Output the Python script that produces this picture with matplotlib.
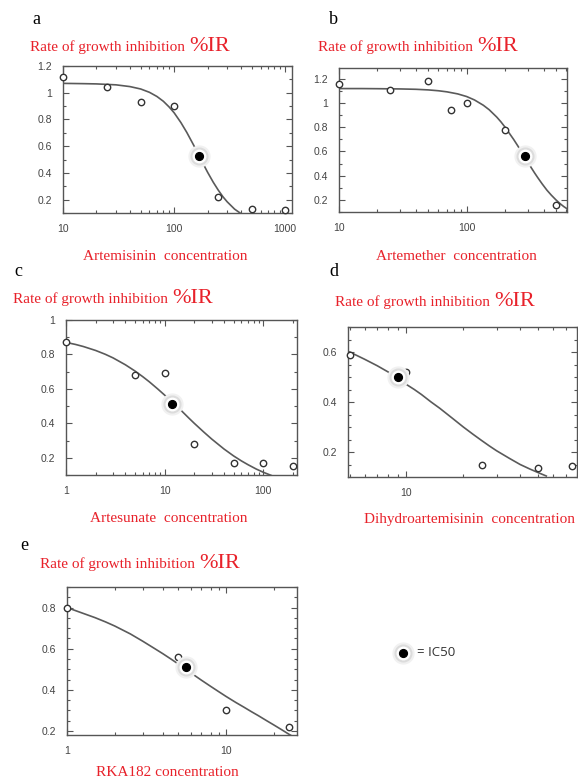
import numpy as np
import matplotlib
matplotlib.use("Agg")
import matplotlib.pyplot as plt
from matplotlib.ticker import (FixedLocator, FixedFormatter, LogLocator,
                               NullFormatter, MultipleLocator, FuncFormatter)

W, H = 578, 778

# ---------------- data ----------------
letters = ["a", "b", "c", "d", "e"]
xlabels = ["Artemisinin  concentration", "Artemether  concentration",
           "Artesunate  concentration", "Dihydroartemisinin  concentration",
           "RKA182 concentration"]
title_main = "Rate of growth inhibition "
title_unit = "%IR"

a_x = [10, 25, 50, 100, 250, 500, 1000]
a_y = [1.12, 1.04, 0.93, 0.90, 0.22, 0.13, 0.12]
a_ic50 = (168, 0.53)
a_cx = [10, 15, 20, 30, 40, 50, 60, 70, 80, 90, 100, 115, 130, 150, 168,
        185, 200, 225, 250, 275, 300, 350, 400]
a_cy = [1.07, 1.068, 1.066, 1.059, 1.046, 1.028, 1.003, 0.972, 0.936, 0.894,
        0.85, 0.777, 0.703, 0.607, 0.53, 0.459, 0.405, 0.33, 0.27, 0.2215,
        0.184, 0.129, 0.095]

b_x = [10, 25, 50, 75, 100, 200, 500]
b_y = [1.16, 1.11, 1.18, 0.94, 1.0, 0.78, 0.16]
b_ic50 = (284, 0.56)
b_cx = [10, 15, 20, 30, 40, 50, 60, 70, 85, 100, 115, 135, 150, 172, 185,
        200, 233, 250, 284, 314, 340, 360, 390, 425, 460, 500, 540, 575, 610]
b_cy = [1.12, 1.12, 1.119, 1.117, 1.114, 1.109, 1.102, 1.093, 1.076, 1.054,
        1.026, 0.982, 0.945, 0.884, 0.846, 0.80, 0.70, 0.65, 0.557, 0.48,
        0.423, 0.384, 0.332, 0.28, 0.239, 0.20, 0.168, 0.145, 0.127]

c_x = [1, 5, 10, 20, 50, 100, 200]
c_y = [0.87, 0.68, 0.69, 0.28, 0.17, 0.17, 0.15]
c_ic50 = (12, 0.51)
c_cx = [1, 1.25, 1.5, 2, 2.5, 3, 4, 5, 6, 7, 8.5, 10, 12, 15, 17.5, 20, 25,
        30, 40, 50, 60, 70, 85, 100, 120]
c_cy = [0.87, 0.858, 0.846, 0.823, 0.801, 0.78, 0.74, 0.704, 0.671, 0.641,
        0.60, 0.564, 0.522, 0.47, 0.432, 0.40, 0.349, 0.309, 0.251, 0.211,
        0.182, 0.16, 0.1345, 0.116, 0.098]

d_x = [5, 10, 25, 50, 75]
d_y = [0.59, 0.52, 0.15, 0.135, 0.145]
d_ic50 = (9, 0.50)
d_cx = [5, 6, 7, 8, 9, 10, 11, 12, 13.5, 15, 17.5, 20, 22.5, 25, 27.5, 30,
        35, 40, 45, 50, 55]
d_cy = [0.60, 0.571, 0.545, 0.52, 0.495, 0.47, 0.45, 0.43, 0.40, 0.375,
        0.335, 0.30, 0.271, 0.246, 0.224, 0.205, 0.175, 0.15, 0.132, 0.117,
        0.104]

e_x = [1, 5, 10, 25]
e_y = [0.80, 0.56, 0.30, 0.22]
e_ic50 = (5.6, 0.51)
e_cx = [1, 1.25, 1.5, 1.75, 2, 2.5, 3, 3.5, 4, 4.5, 5, 6, 7, 8, 9, 10, 11.5,
        13, 14.5, 16, 18, 20, 22.5, 25, 27]
e_cy = [0.80, 0.773, 0.751, 0.73, 0.71, 0.672, 0.636, 0.604, 0.576, 0.55,
        0.526, 0.483, 0.447, 0.417, 0.391, 0.368, 0.339, 0.315, 0.293, 0.274,
        0.25, 0.229, 0.205, 0.183, 0.168]

xticks = [[10, 100, 1000], [10, 100], [1, 10, 100], [10], [1, 10]]
xticklabels = [["10", "100", "1000"], ["10", "100"], ["1", "10", "100"],
               ["10"], ["1", "10"]]
xlims = [(10, 1150), (10, 610), (1, 220), (4.9, 80), (1, 28)]
ylims = [(0.1, 1.2), (0.1, 1.29), (0.1, 1.0), (0.1, 0.7), (0.18, 0.9)]
yminor = [0.1, 0.1, 0.1, 0.05, 0.05]

pts_x = [a_x, b_x, c_x, d_x, e_x]
pts_y = [a_y, b_y, c_y, d_y, e_y]
ic50s = [a_ic50, b_ic50, c_ic50, d_ic50, e_ic50]
curves_x = [a_cx, b_cx, c_cx, d_cx, e_cx]
curves_y = [a_cy, b_cy, c_cy, d_cy, e_cy]

# ---------------- layout (pixels) ----------------
boxes = [(63, 66, 292, 213), (339, 68, 567, 212), (66, 320, 297, 475),
         (348, 327, 577, 477), (67, 587, 297, 735)]
letter_pos = [(32, 20), (329, 20), (14, 272), (329, 272), (20, 545)]
title_pos = [(30, 51), (318, 51), (13, 303), (335, 306), (40, 568)]
xlabel_pos = [(165, 257), (456, 257), (169, 519), (469, 519), (167, 772)]

RED = "#e8212a"
GRAY = "#555555"
SERIF = ["Liberation Serif", "DejaVu Serif"]
SANS = ["Liberation Sans", "DejaVu Sans"]

fig = plt.figure(figsize=(W / 100, H / 100), dpi=100)
fig.patch.set_facecolor("white")


def fx(px):
    return px / W


def fy(py):
    return 1 - py / H


def draw_ic50(ax, x, y):
    kw = dict(linestyle="none", marker="o", clip_on=False, zorder=5)
    ax.plot([x], [y], ms=16, mfc="#f1f1f1", mec="none", **kw)
    ax.plot([x], [y], ms=13, mfc="#dcdcdc", mec="none", **kw)
    ax.plot([x], [y], ms=10, mfc="white", mec="none", **kw)
    ax.plot([x], [y], ms=5.6, mfc="black", mec="black", **kw)


for i in range(5):
    x0, y0, x1, y1 = boxes[i]
    ax = fig.add_axes([fx(x0), fy(y1), (x1 - x0) / W, (y1 - y0) / H])
    ax.set_xscale("log")
    ax.set_xlim(*xlims[i])
    ax.set_ylim(*ylims[i])
    ax.plot(curves_x[i], curves_y[i], color="#5a5a5a", lw=1.2, zorder=3,
            solid_joinstyle="round")
    ax.plot(pts_x[i], pts_y[i], linestyle="none", marker="o", ms=4.6,
            mfc="white", mec="#333333", mew=1.0, clip_on=False, zorder=4)
    draw_ic50(ax, *ic50s[i])

    ax.xaxis.set_major_locator(FixedLocator(xticks[i]))
    ax.xaxis.set_major_formatter(FixedFormatter(xticklabels[i]))
    ax.xaxis.set_minor_locator(LogLocator(base=10, subs=np.arange(2, 10)))
    ax.xaxis.set_minor_formatter(NullFormatter())
    ax.yaxis.set_major_locator(MultipleLocator(0.2))
    ax.yaxis.set_minor_locator(MultipleLocator(yminor[i]))
    ax.yaxis.set_major_formatter(FuncFormatter(lambda v, p: "%g" % round(v, 2)))

    ax.tick_params(which="both", direction="in", top=True, right=True,
                   color=GRAY, width=0.8, labelsize=7.5, labelcolor="#444444")
    ax.tick_params(which="major", length=4)
    ax.tick_params(which="minor", length=2.3)
    ax.tick_params(axis="x", which="major", pad=8)
    ax.tick_params(axis="y", which="major", pad=8)
    for lab in ax.get_xticklabels() + ax.get_yticklabels():
        lab.set_family(SANS)
    for sp in ax.spines.values():
        sp.set_color(GRAY)
        sp.set_linewidth(1.0)

    lx, ly = letter_pos[i]
    fig.text(fx(lx), fy(ly), letters[i], family=SERIF, fontsize=13,
             color="black", ha="left", va="center")
    xl, yl = xlabel_pos[i]
    fig.text(fx(xl), fy(yl), xlabels[i], family=SERIF, fontsize=11,
             color=RED, ha="center", va="center")

# titles with two sizes on one baseline
fig.canvas.draw()
renderer = fig.canvas.get_renderer()
for i in range(5):
    tx, ty = title_pos[i]
    t1 = fig.text(fx(tx), fy(ty), title_main, family=SERIF, fontsize=11,
                  color=RED, ha="left", va="baseline")
    bb = t1.get_window_extent(renderer=renderer)
    fig.text(bb.x1 / W, fy(ty), title_unit, family=SERIF, fontsize=16,
             color=RED, ha="left", va="baseline")

# legend for IC50
lax = fig.add_axes([0, 0, 1, 1], facecolor="none")
lax.set_xlim(0, W)
lax.set_ylim(H, 0)
lax.axis("off")
draw_ic50(lax, 403, 653)
lax.text(417, 653, "= IC50", family=["Open Sans", "DejaVu Sans"],
         fontsize=9.5, color="#333333", ha="left", va="center")

fig.savefig("out.png", dpi=100, facecolor="white")
